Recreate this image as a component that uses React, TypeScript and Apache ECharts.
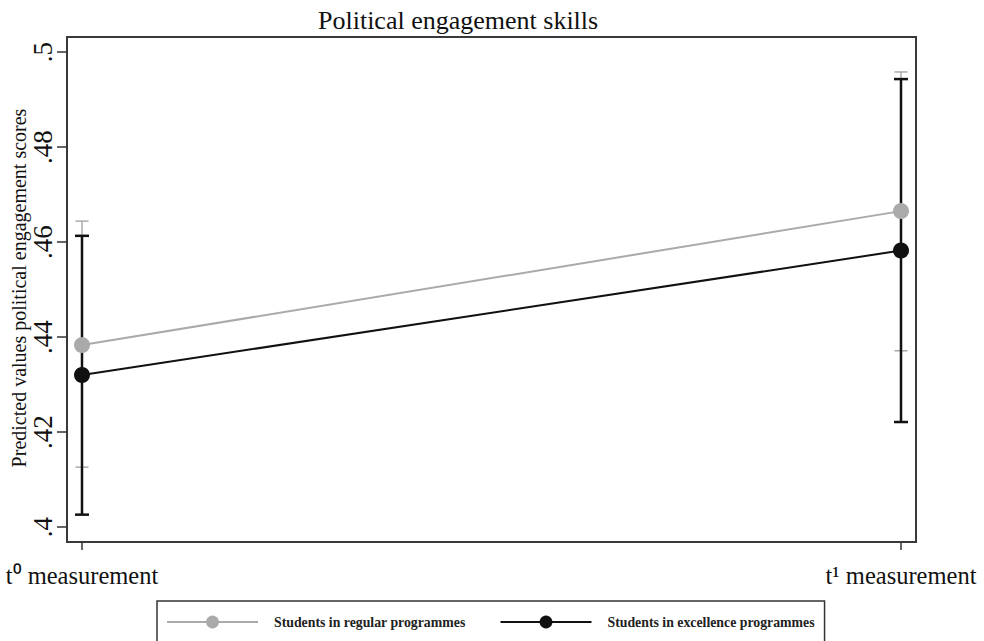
import React, { useEffect, useRef } from "react";
import * as echarts from "echarts";

// Measurement occasions (x positions 0 and 1)
const occasions = ["t\u2070 measurement", "t\u00b9 measurement"];
const occasionX = [0, 1];

// Predicted values and 95% confidence limits
const regularMean = [0.4383, 0.4665];
const regularLow = [0.4126, 0.4371];
const regularHigh = [0.4644, 0.4958];

const excellenceMean = [0.432, 0.4582];
const excellenceLow = [0.4026, 0.4221];
const excellenceHigh = [0.4613, 0.4943];

const yTicks = [0.4, 0.42, 0.44, 0.46, 0.48, 0.5];

const seriesNames = ["Students in regular programmes", "Students in excellence programmes"];
const yTitle = "Predicted values political engagement scores";

const FONT = "'Liberation Serif', 'Times New Roman', serif";

function errorBars(low: number[], high: number[], color: string, width: number, cap: number) {
  return {
    type: "custom",
    silent: true,
    z: 2,
    data: occasionX.map((x, i) => [x, low[i], high[i]]),
    encode: { x: 0, y: [1, 2] },
    renderItem: (_params: any, api: any) => {
      const x = api.value(0);
      const top = api.coord([x, api.value(2)]);
      const bot = api.coord([x, api.value(1)]);
      const style = { stroke: color, lineWidth: width };
      return {
        type: "group",
        children: [
          { type: "line", shape: { x1: top[0], y1: top[1], x2: bot[0], y2: bot[1] }, style },
          { type: "line", shape: { x1: top[0] - cap, y1: top[1], x2: top[0] + cap, y2: top[1] }, style },
          { type: "line", shape: { x1: bot[0] - cap, y1: bot[1], x2: bot[0] + cap, y2: bot[1] }, style },
        ],
      };
    },
  };
}

export default function App() {
  const ref = useRef<HTMLDivElement>(null);

  useEffect(() => {
    if (!ref.current) return;
    const chart = echarts.init(ref.current, null, { renderer: "svg" });
    const xPad = 15 / 819;
    const yPad = 15 / 4750;
    chart.setOption({
      animation: false,
      backgroundColor: "#ffffff",
      title: {
        text: "Political engagement skills",
        left: 313,
        top: 2,
        textStyle: { fontFamily: FONT, fontSize: 26, fontWeight: "normal", color: "#111" },
      },
      // Vertical axis title, set beside the rotated tick labels
      graphic: [
        {
          type: "text",
          x: 19,
          y: 288,
          rotation: Math.PI / 2,
          style: {
            text: yTitle,
            font: `20px ${FONT}`,
            fill: "#111",
            align: "center",
            verticalAlign: "middle",
          },
        },
      ],
      grid: {
        left: 67,
        right: 68,
        top: 37,
        bottom: 99,
        outerBoundsMode: "none",
        containLabel: false,
        show: true,
        borderColor: "#3a3a3a",
        borderWidth: 2,
      },
      xAxis: {
        type: "value",
        min: -xPad,
        max: 1 + xPad,
        splitLine: { show: false },
        axisLine: { show: false, onZero: false },
        axisTick: { show: true, length: 8, customValues: occasionX, lineStyle: { color: "#333", width: 1.5 } },
        axisLabel: {
          customValues: occasionX,
          margin: 21,
          fontFamily: FONT,
          fontSize: 24.5,
          color: "#111",
          formatter: (v: number) => occasions[Math.round(v)],
        },
      },
      yAxis: {
        type: "value",
        min: 0.4 - yPad,
        max: 0.5 + yPad,
        splitLine: { show: false },
        axisLine: { show: false, onZero: false },
        axisTick: { show: true, length: 10, customValues: yTicks, lineStyle: { color: "#333", width: 1.5 } },
        axisLabel: {
          customValues: yTicks,
          rotate: 90,
          margin: 11,
          fontFamily: FONT,
          fontSize: 27,
          color: "#111",
          formatter: (v: number) => String(Number(v.toFixed(2))).replace(/^0/, ""),
        },
      },
      legend: {
        data: seriesNames,
        left: 157,
        top: 601,
        orient: "horizontal",
        itemWidth: 91,
        itemHeight: 16,
        itemGap: 34,
        padding: [14, 10, 40, 9],
        borderColor: "#333",
        borderWidth: 1.5,
        textStyle: { fontFamily: FONT, fontSize: 13.8, fontWeight: "bold", color: "#222", padding: [0, 0, 0, 11] },
      },
      series: [
        errorBars(regularLow, regularHigh, "#aaaaaa", 1.5, 6.5),
        errorBars(excellenceLow, excellenceHigh, "#111111", 2.5, 7),
        {
          name: seriesNames[0],
          type: "line",
          z: 3,
          data: occasionX.map((x, i) => [x, regularMean[i]]),
          symbol: "circle",
          symbolSize: 16,
          lineStyle: { color: "#aaaaaa", width: 2 },
          itemStyle: { color: "#aaaaaa" },
        },
        {
          name: seriesNames[1],
          type: "line",
          z: 4,
          data: occasionX.map((x, i) => [x, excellenceMean[i]]),
          symbol: "circle",
          symbolSize: 16,
          lineStyle: { color: "#111111", width: 2 },
          itemStyle: { color: "#111111" },
        },
      ],
    });
    return () => chart.dispose();
  }, []);

  return (
    <div
      ref={ref}
      style={{ position: "fixed", left: 0, top: 0, width: 984, height: 641, background: "#fff" }}
    />
  );
}
